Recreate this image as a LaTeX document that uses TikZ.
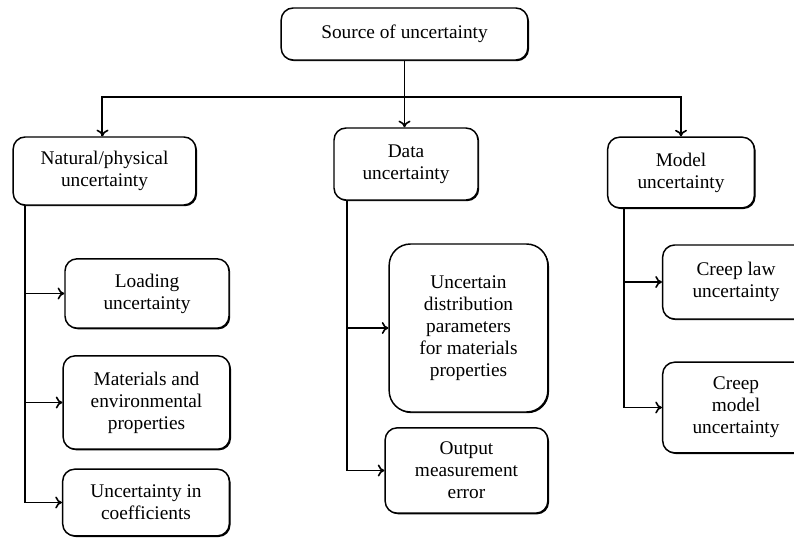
\documentclass[tikz,border=0pt]{standalone}
\usepackage{fontspec}
\setmainfont{Liberation Serif}
\usetikzlibrary{positioning}
\usetikzlibrary{shadows}
\usetikzlibrary{arrows.meta}

\tikzset{
 box/.style={draw,line width=1.1pt,rounded corners=9pt,fill=white,align=center,
  font=\fontsize{14.5}{16.5}\selectfont,inner sep=2pt,
  drop shadow={shadow xshift=0.9pt,shadow yshift=-0.9pt,fill=black,opacity=1}},
 arr/.style={line width=1.2pt,-{To[length=5pt,width=9pt,line width=1.2pt]}},
 spine/.style={line width=2.2pt}
}

\begin{document}
\begin{tikzpicture}[x=0.75pt,y=-0.75pt]
 \useasboundingbox (0,0) rectangle (794,540);
 \clip (0,0) rectangle (794,540);
 % top level
 \node[box,minimum width=185pt,minimum height=39pt] (src) at (404.5,34) {Source of uncertainty};
 \node[box,minimum width=137pt,minimum height=51pt] (nat) at (104.5,171) {Natural/physical\\uncertainty};
 \node[box,minimum width=108pt,minimum height=54pt] (dat) at (406,164) {Data\\uncertainty};
 \node[box,minimum width=110pt,minimum height=53pt] (mod) at (681,172.5) {Model\\uncertainty};
 % natural branch
 \node[box,minimum width=123pt,minimum height=52pt] (load) at (147,293.5) {Loading\\uncertainty};
 \node[box,minimum width=125pt,minimum height=70pt] (mat) at (146.5,402.5) {Materials and\\environmental\\properties};
 \node[box,minimum width=125pt,minimum height=50pt] (coef) at (146,502.5) {Uncertainty in\\coefficients};
 % data branch
 \node[box,minimum width=119pt,minimum height=126pt,rounded corners=16pt] (dist) at (468.5,328) {Uncertain\\distribution\\parameters\\for materials\\properties};
 \node[box,minimum width=122pt,minimum height=64pt] (outp) at (466.5,470.5) {Output\\measurement\\error};
 % model branch
 \node[box,minimum width=110pt,minimum height=55.5pt] (law) at (736,282) {Creep law\\uncertainty};
 \node[box,minimum width=110pt,minimum height=68pt] (cmod) at (736,407.5) {Creep\\model\\uncertainty};

 % connectors
 \coordinate (bar) at (404.5,97);
 \coordinate (nsp) at (25,0);
 \coordinate (dsp) at (347,0);
 \coordinate (msp) at (624,0);
 \draw[arr] (src.south) -- (src.south |- dat.north);
 \draw[line width=1.5pt] (bar) -| ([xshift=-2pt]nat.north);
 \draw[arr] (bar -| nat.north) ++(-2,0) -- ([xshift=-1.5pt]nat.north);
 \draw[line width=1.5pt] (bar) -| (mod.north);
 \draw[arr] (bar -| mod.north) -- (mod.north);

 \draw[spine] (nat.south -| nsp) -- (coef.west -| nsp);
 \draw[arr] (load.west -| nsp) -- (load.west);
 \draw[arr] (mat.west -| nsp) -- (mat.west);
 \draw[arr] (coef.west -| nsp) -- (coef.west);

 \draw[spine] (dat.south -| dsp) -- (outp.west -| dsp);
 \draw[arr] (dist.west -| dsp) -- (dist.west);
 \draw[arr] (outp.west -| dsp) -- (outp.west);

 \draw[spine] (mod.south -| msp) -- (cmod.west -| msp);
 \draw[arr] (law.west -| msp) -- (law.west);
 \draw[arr] (cmod.west -| msp) -- (cmod.west);
\end{tikzpicture}
\end{document}
